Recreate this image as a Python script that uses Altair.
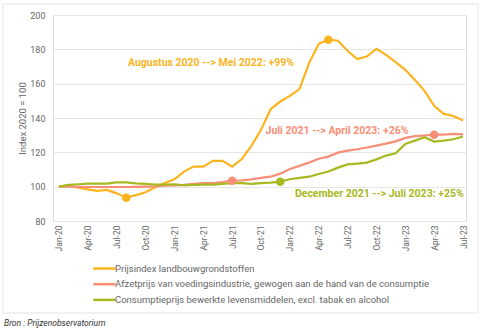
import altair as alt
import pandas as pd

# ---- data ----
tick_labels = ["Jan-20", "Apr-20", "Jul-20", "Oct-20", "Jan-21", "Apr-21", "Jul-21",
               "Oct-21", "Jan-22", "Apr-22", "Jul-22", "Oct-22", "Jan-23", "Apr-23", "Jul-23"]

series_names = [
    "Prijsindex landbouwgrondstoffen",
    "Afzetprijs van voedingsindustrie, gewogen aan de hand van de consumptie",
    "Consumptieprijs bewerkte levensmiddelen, excl. tabak en alcohol",
]

landbouw = [100, 100.8, 99.4, 98.4, 97.5, 98.1, 96.1, 93.6, 95.1, 96.7, 99.6, 102.1,
            104.3, 108.8, 111.7, 111.7, 115, 115, 111.7, 116.1, 123.7, 133.1, 145.1, 149.6,
            152.9, 156.8, 172, 183.2, 185.6, 185, 179.2, 174.3, 175.8, 180.3, 176.8, 172.5,
            168.1, 162.2, 155.8, 147.1, 142.4, 141.2, 138.5]

afzet = [100, 100, 99.9, 99.8, 99.8, 99.8, 99.8, 99.8, 99.9, 100, 100.2, 100.6,
         100.8, 101, 101.6, 102.1, 102.1, 102.7, 103.5, 103.7, 104.3, 105.1, 105.8, 107.6,
         110.3, 112.1, 114, 116.3, 117.5, 119.8, 121, 121.8, 122.8, 123.9, 125.1, 126.4,
         128.4, 129.4, 129.8, 130.3, 130.3, 130.7, 130.5]

consumptie = [100, 101, 101.4, 101.8, 101.8, 101.8, 102.5, 102.5, 101.9, 101.6, 101.2, 101.2,
              101.4, 100.8, 101, 101.2, 101.2, 101.6, 102.1, 102.1, 101.6, 102.1, 102.3, 102.9,
              104.3, 105.1, 105.8, 107.4, 108.8, 111.1, 113, 113.4, 114, 115.9, 118.1, 119.4,
              124.9, 126.8, 128.8, 126.3, 126.8, 127.6, 129.2]

colors = ["#FBB41E", "#F98E76", "#A8B820"]

# highlighted points: (series index, month index)
marker_series = [0, 0, 1, 1, 2]
marker_month = [7, 28, 18, 39, 23]

annot_text = ["Augustus 2020 --> Mei 2022: +99%",
              "Juli 2021 --> April 2023: +26%",
              "December 2021 --> Juli 2023: +25%"]
annot_x = [15.8, 28.9, 33.3]
annot_y = [172.2, 132.5, 95.7]

source_text = "Bron : Prijzenobservatorium"

# ---- tables ----
all_series = [landbouw, afzet, consumptie]
rows = []
for name, vals in zip(series_names, all_series):
    for i, v in enumerate(vals):
        rows.append({"m": i, "value": v, "series": name})
df = pd.DataFrame(rows)

mk = pd.DataFrame({
    "m": marker_month,
    "value": [all_series[s][m] for s, m in zip(marker_series, marker_month)],
    "series": [series_names[s] for s in marker_series],
})

an = pd.DataFrame({"m": annot_x, "value": annot_y, "text": annot_text,
                   "series": series_names})

label_js = "[" + ",".join('"%s"' % t for t in tick_labels) + "]"

FONT = "Roboto"
color_scale = alt.Scale(domain=series_names, range=colors)

x_enc = alt.X("m:Q",
              scale=alt.Scale(domain=[-0.62, 42.31], nice=False, zero=False),
              axis=alt.Axis(values=list(range(0, 43, 3)),
                            labelExpr=label_js + "[round(datum.value/3)]",
                            labelAngle=270, labelFontSize=8.5, labelColor="#666666",
                            labelFont=FONT, grid=False, domain=False, ticks=False,
                            labelOverlap=False,
                            labelPadding=4, title=None))
y_enc = alt.Y("value:Q",
              scale=alt.Scale(domain=[80, 200], nice=False, zero=False),
              axis=alt.Axis(values=list(range(80, 201, 20)), labelFontSize=9,
                            labelColor="#666666", labelFont=FONT, domain=False,
                            ticks=False, labelPadding=8, gridColor="#e6e6e6",
                            labelOverlap=False,
                            title="Index 2020 = 100", titleFont=FONT, titleFontSize=9.5,
                            titleFontWeight="normal", titleColor="#666666",
                            titleX=-26, titleY=103, titleAlign="center",
                            titleAngle=270))

lines = alt.Chart(df).mark_line(strokeWidth=2.2, interpolate="linear").encode(
    x=x_enc, y=y_enc,
    color=alt.Color("series:N", scale=color_scale, sort=series_names,
                    legend=alt.Legend(orient="none", legendX=42, legendY=244,
                                      direction="vertical", title=None,
                                      symbolType="M-1.4,0L1.4,0", symbolSize=256,
                                      symbolStrokeWidth=2.5, labelFont=FONT,
                                      labelFontSize=9.5, labelColor="#666666",
                                      labelLimit=500,
                                      labelOffset=1, rowPadding=0.7)),
    order="m:Q",
)

points = alt.Chart(mk).mark_circle(size=72, opacity=1).encode(
    x=x_enc, y=y_enc,
    color=alt.Color("series:N", scale=color_scale, legend=None),
)

texts = alt.Chart(an).mark_text(font=FONT, fontSize=10.5, fontWeight="bold",
                                align="center", baseline="middle").encode(
    x=x_enc, y=y_enc, text="text:N",
    color=alt.Color("series:N", scale=color_scale, legend=None),
)

border = alt.Chart(pd.DataFrame({"a": [0]})).mark_rect(
    fill=None, stroke="#e4e4e4", strokeWidth=1).encode(
    x=alt.value(-50), x2=alt.value(425), y=alt.value(-11), y2=alt.value(298))

source = alt.Chart(pd.DataFrame({"t": [source_text]})).mark_text(
    font=FONT, fontSize=8.5, fontStyle="italic", color="#333333",
    align="left", baseline="middle").encode(
    x=alt.value(-49), y=alt.value(308), text="t:N")

chart = alt.layer(border, lines, points, texts, source).properties(
    width=413, height=206,
    autosize=alt.AutoSizeParams(type="none"),
    padding={"left": 53, "top": 15, "right": 14, "bottom": 110},
).configure_view(stroke=None).configure(background="white")

chart.save("out.html", embed_options={"renderer": "svg", "actions": False})
